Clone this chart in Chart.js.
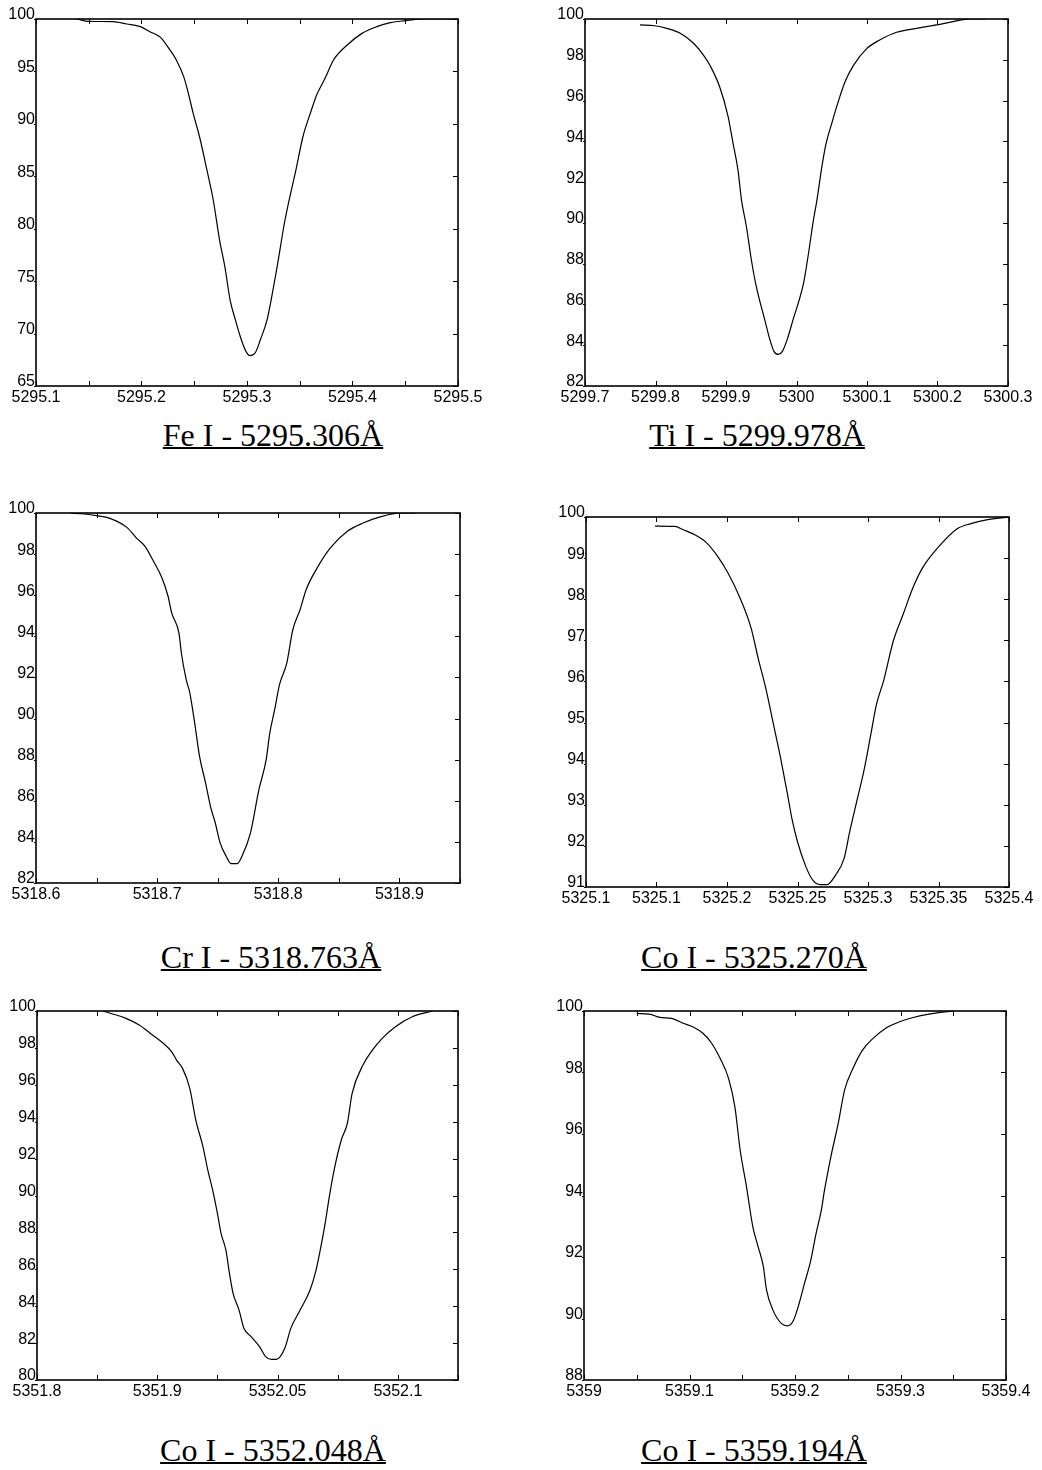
<!DOCTYPE html>
<html>
<head>
<meta charset="utf-8">
<script src="https://cdn.jsdelivr.net/npm/chart.js@4.4.1/dist/chart.umd.min.js"></script>
<style>
  html, body { margin: 0; padding: 0; background: #fff; }
  body { width: 1042px; height: 1470px; position: relative; overflow: hidden; }
  canvas { position: absolute; }
  .cap {
    position: absolute; white-space: nowrap; line-height: 1;
    font-family: "Liberation Serif", "Times New Roman", serif; font-size: 32px;
    text-decoration: underline; text-decoration-thickness: 2px; transform: translateX(-50%);
  }
</style>
</head>
<body>
<canvas id="c1"></canvas><canvas id="c2"></canvas>
<canvas id="c3"></canvas><canvas id="c4"></canvas>
<canvas id="c5"></canvas><canvas id="c6"></canvas>

<script>
// --- Fe I 5295.306
const feWl  = [5295.139, 5295.149, 5295.173, 5295.186, 5295.199, 5295.208, 5295.218, 5295.227, 5295.233, 5295.240,
               5295.244, 5295.249, 5295.255, 5295.262, 5295.268, 5295.274, 5295.279, 5295.284, 5295.289, 5295.294,
               5295.299, 5295.303, 5295.308, 5295.313, 5295.319, 5295.328, 5295.336, 5295.347, 5295.353, 5295.361,
               5295.366, 5295.374, 5295.382, 5295.395, 5295.409, 5295.423, 5295.436, 5295.450, 5295.467, 5295.500];
const feVal = [100, 99.78, 99.75, 99.52, 99.27, 98.79, 98.25, 97.04, 96.09, 94.5,
               93.07, 91.0, 88.77, 85.6, 82.74, 78.92, 76.38, 73.2, 71.3, 69.6,
               68.3, 67.9, 68.2, 69.5, 71.3, 76.06, 80.83, 85.9, 88.77, 91.3,
               92.75, 94.34, 96.09, 97.52, 98.63, 99.27, 99.65, 99.84, 100, 100];
const feXTicks  = [5295.1, 5295.15, 5295.2, 5295.25, 5295.3, 5295.35, 5295.4, 5295.45, 5295.5];
const feXLabels = ['5295.1', '', '5295.2', '', '5295.3', '', '5295.4', '', '5295.5'];
const feYTicks  = [65, 70, 75, 80, 85, 90, 95, 100];

// --- Ti I 5299.978
const tiWl  = [5299.778, 5299.799, 5299.816, 5299.835, 5299.854, 5299.868, 5299.877, 5299.891, 5299.903, 5299.910,
               5299.917, 5299.922, 5299.929, 5299.936, 5299.943, 5299.955, 5299.962, 5299.968, 5299.974, 5299.980,
               5299.987, 5299.995, 5300.010, 5300.017, 5300.024, 5300.029, 5300.036, 5300.042, 5300.050, 5300.057,
               5300.069, 5300.081, 5300.100, 5300.118, 5300.142, 5300.170, 5300.199, 5300.222, 5300.246, 5300.269];
const tiVal = [99.71, 99.67, 99.54, 99.30, 98.81, 98.23, 97.74, 96.68, 95.21, 93.90,
               92.59, 91.12, 89.81, 88.18, 86.87, 85.24, 84.3, 83.7, 83.55, 83.7,
               84.3, 85.24, 87.04, 88.5, 90.14, 91.12, 92.76, 93.90, 94.88, 95.70,
               96.93, 97.74, 98.56, 98.97, 99.35, 99.54, 99.71, 99.87, 100, 100];
const tiXTicks  = [5299.7, 5299.8, 5299.9, 5300, 5300.1, 5300.2, 5300.3];
const tiXLabels = ['5299.7', '5299.8', '5299.9', '5300', '5300.1', '5300.2', '5300.3'];
const tiYTicks  = [82, 84, 86, 88, 90, 92, 94, 96, 98, 100];

// --- Cr I 5318.763
const crWl  = [5318.628, 5318.640, 5318.650, 5318.661, 5318.675, 5318.683, 5318.690, 5318.697, 5318.704, 5318.709,
               5318.712, 5318.718, 5318.720, 5318.724, 5318.727, 5318.731, 5318.735, 5318.740, 5318.744, 5318.748,
               5318.752, 5318.757, 5318.761, 5318.766, 5318.770, 5318.777, 5318.784, 5318.790, 5318.793, 5318.797,
               5318.801, 5318.807, 5318.812, 5318.818, 5318.823, 5318.832, 5318.843, 5318.857, 5318.870, 5318.884,
               5318.901, 5318.913];
const crVal = [100, 99.95, 99.87, 99.74, 99.30, 98.78, 98.38, 97.65, 96.84, 95.95,
               95.14, 94.16, 93.19, 91.89, 91.24, 89.78, 88.16, 86.86, 85.73, 84.92,
               83.95, 83.30, 82.94, 82.94, 83.30, 84.43, 86.54, 88.0, 89.30, 90.43,
               91.65, 92.70, 94.32, 95.30, 96.27, 97.32, 98.30, 99.11, 99.51, 99.81,
               100, 100];
const crXTicks  = [5318.6, 5318.65, 5318.7, 5318.75, 5318.8, 5318.85, 5318.9, 5318.95];
const crXLabels = ['5318.6', '', '5318.7', '', '5318.8', '', '5318.9', ''];
const crYTicks  = [82, 84, 86, 88, 90, 92, 94, 96, 98, 100];

// --- Co I 5325.270
const co1Wl  = [5325.149, 5325.163, 5325.169, 5325.176, 5325.185, 5325.193, 5325.201, 5325.209, 5325.217, 5325.222,
                5325.228, 5325.233, 5325.238, 5325.243, 5325.246, 5325.250, 5325.256, 5325.261, 5325.266, 5325.271,
                5325.277, 5325.283, 5325.287, 5325.292, 5325.297, 5325.302, 5325.306, 5325.311, 5325.318, 5325.325,
                5325.332, 5325.339, 5325.351, 5325.363, 5325.373, 5325.384, 5325.400];
const co1Val = [99.78, 99.77, 99.69, 99.59, 99.39, 99.06, 98.62, 98.05, 97.31, 96.58,
                95.76, 94.95, 94.14, 93.24, 92.67, 92.10, 91.49, 91.16, 91.06, 91.06,
                91.29, 91.69, 92.34, 93.08, 93.81, 94.71, 95.44, 96.01, 96.99, 97.64,
                98.29, 98.78, 99.31, 99.71, 99.84, 99.93, 100];
const co1XTicks  = [5325.1, 5325.15, 5325.2, 5325.25, 5325.3, 5325.35, 5325.4];
const co1XLabels = ['5325.1', '5325.1', '5325.2', '5325.25', '5325.3', '5325.35', '5325.4'];
const co1YTicks  = [91, 92, 93, 94, 95, 96, 97, 98, 99, 100];

// --- Co I 5352.048
const co2Wl  = [5351.905, 5351.913, 5351.924, 5351.935, 5351.946, 5351.955, 5351.962, 5351.966, 5351.971, 5351.977,
                5351.982, 5351.988, 5351.992, 5351.996, 5352.000, 5352.003, 5352.007, 5352.010, 5352.013, 5352.018,
                5352.022, 5352.028, 5352.035, 5352.040, 5352.045, 5352.049, 5352.056, 5352.061, 5352.068, 5352.077,
                5352.082, 5352.086, 5352.090, 5352.093, 5352.097, 5352.103, 5352.108, 5352.112, 5352.121, 5352.129,
                5352.137, 5352.148, 5352.162, 5352.179];
const co2Val = [100, 99.84, 99.60, 99.24, 98.70, 98.25, 97.79, 97.34, 96.89, 95.81,
                94.09, 92.64, 91.38, 90.30, 89.03, 87.95, 87.05, 85.78, 84.70, 83.79,
                82.80, 82.35, 81.81, 81.27, 81.12, 81.12, 81.72, 82.80, 83.70, 84.88,
                85.96, 87.22, 88.67, 89.93, 91.38, 93.01, 93.91, 95.54, 97.07, 97.89,
                98.52, 99.15, 99.69, 100];
const co2XTicks  = [5351.85, 5351.9, 5351.95, 5352.0, 5352.05, 5352.1, 5352.15, 5352.2];
const co2XLabels = ['5351.8', '', '5351.9', '', '5352.05', '', '5352.1', ''];
const co2YTicks  = [80, 82, 84, 86, 88, 90, 92, 94, 96, 98, 100];

// --- Co I 5359.194
const co3Wl  = [5359.050, 5359.062, 5359.072, 5359.083, 5359.094, 5359.103, 5359.113, 5359.121, 5359.129, 5359.137,
                5359.143, 5359.148, 5359.154, 5359.160, 5359.165, 5359.170, 5359.173, 5359.179, 5359.187, 5359.193,
                5359.198, 5359.203, 5359.209, 5359.215, 5359.220, 5359.225, 5359.228, 5359.234, 5359.241, 5359.247,
                5359.255, 5359.264, 5359.274, 5359.286, 5359.299, 5359.312, 5359.327, 5359.350];
const co3Val = [99.92, 99.90, 99.79, 99.76, 99.60, 99.49, 99.27, 98.95, 98.46, 97.81,
                96.89, 95.48, 94.29, 92.99, 92.34, 91.69, 90.93, 90.28, 89.84, 89.76,
                89.90, 90.38, 91.14, 91.90, 92.77, 93.53, 94.18, 95.26, 96.35, 97.43,
                98.14, 98.73, 99.11, 99.44, 99.65, 99.79, 99.90, 100];
const co3XTicks  = [5359, 5359.05, 5359.1, 5359.15, 5359.2, 5359.25, 5359.3, 5359.35, 5359.4];
const co3XLabels = ['5359', '', '5359.1', '', '5359.2', '', '5359.3', '', '5359.4'];
const co3YTicks  = [88, 90, 92, 94, 96, 98, 100];

{
    const AXIS_W = 40, AXIS_H = 28, PAD_TOP = 20, PAD_RIGHT = 32;

    Chart.defaults.font.family = '"Liberation Sans", Arial, sans-serif';
    Chart.defaults.font.size = 16;
    Chart.defaults.color = '#000';

    // 테두리와 안쪽 눈금
    const frameTicks = {
        id: 'frameTicks',
        afterDatasetsDraw(chart) {
            const { ctx, chartArea: a, scales: { x, y } } = chart;
            ctx.save();
            ctx.strokeStyle = '#000';
            ctx.lineWidth = 1;
            ctx.beginPath();
            x.ticks.forEach(t => {
                const px = Math.round(x.getPixelForValue(t.value)) + 0.5;
                ctx.moveTo(px, a.top); ctx.lineTo(px, a.top + 5);
                ctx.moveTo(px, a.bottom); ctx.lineTo(px, a.bottom - 5);
            });
            y.ticks.forEach(t => {
                const py = Math.round(y.getPixelForValue(t.value)) + 0.5;
                ctx.moveTo(a.right, py); ctx.lineTo(a.right - 5, py);
                ctx.moveTo(a.left, py); ctx.lineTo(a.left - 2, py);
            });
            ctx.stroke();
            ctx.lineWidth = 1.6;
            ctx.strokeRect(a.left, a.top, a.right - a.left, a.bottom - a.top);
            ctx.restore();
        }
    };

    const Spectra = {
        panels: [
            { id: 'c1', box: [36, 19, 458, 386],    wl: feWl,  val: feVal,  xt: feXTicks,  xl: feXLabels,  yt: feYTicks,
              title: 'Fe I - 5295.306Å', cx: 273, base: 446 },
            { id: 'c2', box: [585, 19, 1008, 386],  wl: tiWl,  val: tiVal,  xt: tiXTicks,  xl: tiXLabels,  yt: tiYTicks,
              title: 'Ti I - 5299.978Å', cx: 757, base: 446 },
            { id: 'c3', box: [36, 513, 460, 883],   wl: crWl,  val: crVal,  xt: crXTicks,  xl: crXLabels,  yt: crYTicks,
              title: 'Cr I - 5318.763Å', cx: 271, base: 968 },
            { id: 'c4', box: [586, 517, 1009, 887], wl: co1Wl, val: co1Val, xt: co1XTicks, xl: co1XLabels, yt: co1YTicks,
              title: 'Co I - 5325.270Å', cx: 754, base: 968 },
            { id: 'c5', box: [37, 1011, 458, 1380], wl: co2Wl, val: co2Val, xt: co2XTicks, xl: co2XLabels, yt: co2YTicks,
              title: 'Co I - 5352.048Å', cx: 273, base: 1461 },
            { id: 'c6', box: [584, 1011, 1006, 1380], wl: co3Wl, val: co3Val, xt: co3XTicks, xl: co3XLabels, yt: co3YTicks,
              title: 'Co I - 5359.194Å', cx: 754, base: 1461 }
        ],

        init() {
            this.panels.forEach(p => this.renderPanel(p));
        },

        renderPanel(p) {
            const [l, t, r, b] = p.box;
            const cv = document.getElementById(p.id);
            cv.width = (r - l) + AXIS_W + PAD_RIGHT;
            cv.height = (b - t) + PAD_TOP + AXIS_H;
            cv.style.left = (l - AXIS_W) + 'px';
            cv.style.top = (t - PAD_TOP) + 'px';

            const cap = document.createElement('div');
            cap.className = 'cap';
            cap.textContent = p.title;
            cap.style.left = p.cx + 'px';
            cap.style.top = (p.base - 27) + 'px';
            document.body.appendChild(cap);

            new Chart(cv, {
                type: 'line',
                data: {
                    datasets: [{
                        data: p.wl.map((w, i) => ({ x: w, y: p.val[i] })),
                        borderColor: '#000',
                        borderWidth: 1.2,
                        pointRadius: 0,
                        cubicInterpolationMode: 'monotone',
                        fill: false
                    }]
                },
                options: {
                    responsive: false,
                    animation: false,
                    devicePixelRatio: 1,
                    layout: { padding: { top: PAD_TOP, right: PAD_RIGHT, left: 0, bottom: 0 } },
                    plugins: { legend: { display: false }, tooltip: { enabled: false } },
                    scales: {
                        x: {
                            type: 'linear',
                            min: p.xt[0], max: p.xt[p.xt.length - 1],
                            grid: { display: false, drawTicks: false },
                            border: { display: false },
                            afterBuildTicks: axis => { axis.ticks = p.xt.map(v => ({ value: v })); },
                            afterFit: axis => { axis.height = AXIS_H; },
                            ticks: { autoSkip: false, maxRotation: 0, padding: 2, callback: (v, i) => p.xl[i] }
                        },
                        y: {
                            min: p.yt[0], max: p.yt[p.yt.length - 1],
                            grid: { display: false, drawTicks: false },
                            border: { display: false },
                            afterBuildTicks: axis => { axis.ticks = p.yt.map(v => ({ value: v })); },
                            afterFit: axis => { axis.width = AXIS_W; },
                            ticks: { autoSkip: false, padding: 1, labelOffset: -4, callback: v => String(v) }
                        }
                    }
                },
                plugins: [frameTicks]
            });
        }
    };

    Spectra.init();
}
</script>
</body>
</html>
